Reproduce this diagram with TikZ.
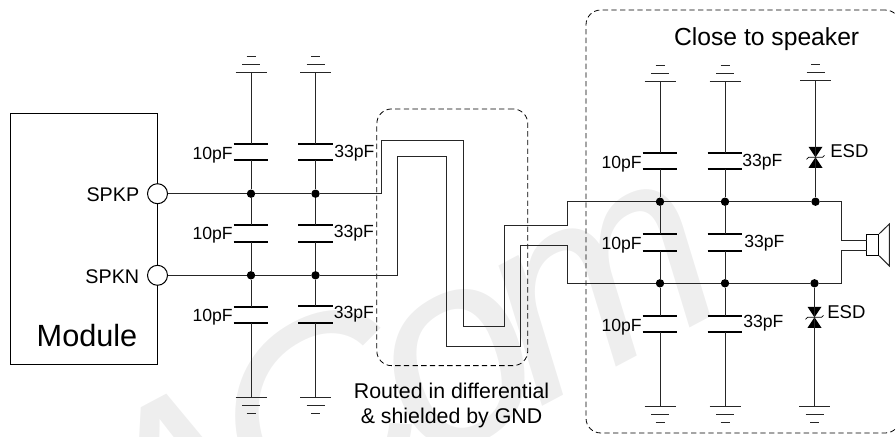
\documentclass[tikz,border=0pt]{standalone}
\usepackage{fontspec}
\setmainfont{Liberation Sans}
\usepackage{xcolor}
\usepackage{tikz}
\usetikzlibrary{positioning}

\definecolor{markgray}{HTML}{EEEEEE}
\tikzset{
    wire/.style={line width=0.75pt, black!85},
    plate/.style={line width=1.5pt, black, line cap=butt},
    capbox/.style={inner sep=0pt, minimum width=25.5pt, minimum height=12pt,
        append after command={
            (\tikzlastnode.north west) edge[plate] (\tikzlastnode.north east)
            (\tikzlastnode.south west) edge[plate] (\tikzlastnode.south east)}},
    junction/.style={circle, fill=black, inner sep=0pt, minimum size=6.3pt},
    pad/.style={draw, circle, fill=white, inner sep=0pt, minimum size=15pt, line width=0.75pt},
    zone/.style={draw, dash pattern=on 4pt off 2.5pt, rounded corners=11pt, line width=0.6pt, inner sep=0pt},
    small/.style={font=\fontsize{13.2}{16}\selectfont, inner sep=0pt},
    pin/.style={font=\fontsize{14.8}{18}\selectfont, inner sep=0pt},
    note/.style={font=\fontsize{16}{18.75}\selectfont, inner sep=0pt, align=center},
    gnd/.pic={
        \draw[wire] (-15.5,0) -- (15.5,0);
        \draw[wire] (-9,-8) -- (9,-8);
        \draw[wire] (-4.5,-16) -- (4.5,-16);
    },
    esd/.pic={
        \fill (-7,-10.5) -- (7,-10.5) -- (0,0) -- cycle;
        \fill (-7,10.5) -- (7,10.5) -- (0,0) -- cycle;
        \draw[line width=0.5pt] (-9,2) -- (-7,0) -- (7,0) -- (9,-2);
    }
}

\begin{document}
\begin{tikzpicture}[x=0.75pt, y=-0.75pt]
    \useasboundingbox (0,0) rectangle (896,436);
    % Watermark
    \node[markgray, rotate=28, anchor=base east, inner sep=0pt, font=\fontsize{205}{205}\selectfont\itshape] (mark) at (740,302) {A\kern-0.12em C\kern-0.09em o\kern-0.09em m};

    % Zones
    \node[zone, minimum width=113.2pt, minimum height=192.5pt] (routezone) at (452.3,237.3) {};
    \node[zone, minimum width=235.5pt, minimum height=317.2pt] (speakerzone) at (743,221.5) {};

    % Module
    \node[draw, line width=0.75pt, inner sep=0pt, minimum width=110.6pt, minimum height=188.8pt] (module) at (83.75,239) {};
    \node[pad] (spkp) at (157.5,193.7) {};
    \node[pad] (spkn) at (157.5,275.3) {};
    \node[pin, anchor=east] (spkplabel) at (139.5,195) {SPKP};
    \node[pin, anchor=east] (spknlabel) at (139.5,277) {SPKN};
    \node[font=\fontsize{23}{28}\selectfont, inner sep=0pt] (modulelabel) at (87,336) {Module};

    % Capacitors, module side
    \node[capbox] (ca1) at (251,152) {};
    \node[capbox] (ca2) at (251,233.7) {};
    \node[capbox] (ca3) at (251,315) {};
    \node[capbox] (cb1) at (315.5,152) {};
    \node[capbox] (cb2) at (315.5,233.7) {};
    \node[capbox] (cb3) at (315.5,314.5) {};
    \node[small, anchor=east] (la1) at (233,155) {10pF};
    \node[small, anchor=east] (la2) at (233,235) {10pF};
    \node[small, anchor=east] (la3) at (233,317) {10pF};
    \node[small, anchor=west] (lb1) at (334,153) {33pF};
    \node[small, anchor=west] (lb2) at (333.5,233) {33pF};
    \node[small, anchor=west] (lb3) at (333.5,314.5) {33pF};

    % Capacitors, speaker side
    \node[capbox] (cc1) at (660,160.8) {};
    \node[capbox] (cc2) at (660,242.5) {};
    \node[capbox] (cc3) at (660,323.8) {};
    \node[capbox] (cd1) at (725,160.8) {};
    \node[capbox] (cd2) at (725,242.5) {};
    \node[capbox] (cd3) at (725,323.8) {};
    \node[small, anchor=east] (lc1) at (642,164) {10pF};
    \node[small, anchor=east] (lc2) at (642,245) {10pF};
    \node[small, anchor=east] (lc3) at (642,327) {10pF};
    \node[small, anchor=west] (ld1) at (742,162) {33pF};
    \node[small, anchor=west] (ld2) at (744,243) {33pF};
    \node[small, anchor=west] (ld3) at (743,323.5) {33pF};

    % Junctions
    \node[junction] (pa) at (251,193.7) {};
    \node[junction] (pb) at (315.5,193.7) {};
    \node[junction] (na) at (251,275.3) {};
    \node[junction] (nb) at (315.5,275.3) {};
    \node[junction] (pc) at (660,201.7) {};
    \node[junction] (pd) at (725,201.7) {};
    \node[junction] (pe) at (815.5,201.7) {};
    \node[junction] (nc) at (660,283.3) {};
    \node[junction] (nd) at (725,283.3) {};
    \node[junction] (ne) at (814.5,283.3) {};

    % Grounds
    \coordinate (ga) at (251,72.3);
    \coordinate (gb) at (315.5,72);
    \coordinate (gc) at (660,81);
    \coordinate (gd) at (725,81);
    \coordinate (ge) at (815.5,80);
    \coordinate (ha) at (251,397);
    \coordinate (hb) at (315.5,397);
    \coordinate (hc) at (660,406.3);
    \coordinate (hd) at (725,406.3);
    \coordinate (he) at (814.5,406.3);
    \foreach \g in {ga,gb,gc,gd,ge} {\pic at (\g) {gnd};}
    \foreach \g in {ha,hb,hc,hd,he} {\pic[yscale=-1] at (\g) {gnd};}

    % Diodes
    \coordinate (dtop) at (815.5,157.3);
    \coordinate (dbot) at (814.5,317.3);
    \pic at (dtop) {esd};
    \pic at (dbot) {esd};
    \node[small, font=\fontsize{13.9}{16}\selectfont, anchor=west] (esdtop) at (830,151.5) {ESD};
    \node[small, font=\fontsize{13.9}{16}\selectfont, anchor=west] (esdbot) at (827,312) {ESD};

    % Speaker
    \node[draw, fill=white, line width=0.75pt, inner sep=0pt, minimum width=8.8pt, minimum height=15.8pt] (spk) at (872.85,244.8) {};
    \coordinate (spktop) at (867,240);
    \coordinate (spkbot) at (867,250);
    \draw[wire] (spk.north east) -- (889.3,224) -- (889.3,266) -- (spk.south east);

    % Texts
    \node[font=\fontsize{18.5}{22}\selectfont, inner sep=0pt] (closelabel) at (766.7,39) {Close to speaker};
    \node[note] (routelabel) at (451.5,405) {Routed in differential\\\& shielded by GND};

    % Edges
    \draw[wire] (ga) -- (ca1) -- (pa) -- (ca2) -- (na) -- (ca3) -- (ha);
    \draw[wire] (gb) -- (cb1) -- (pb) -- (cb2) -- (nb) -- (cb3) -- (hb);
    \draw[wire] (gc) -- (cc1) -- (pc) -- (cc2) -- (nc) -- (cc3) -- (hc);
    \draw[wire] (gd) -- (cd1) -- (pd) -- (cd2) -- (nd) -- (cd3) -- (hd);
    \draw[wire] (ge) -- (pe);
    \draw[wire] (he) -- (ne);
    \draw[wire] (spkp) -- (pa) -- (pb) -- (381.3,193.7) -- (381.3,140.3) -- (463,140.3) -- (463,326.7)
        -- (504,326.7) -- (504,225) -- (567,225) -- (567,201.7) -- (pc) -- (pd) -- (pe)
        -- (841.3,201.7) -- (841.3,240) -- (spktop);
    \draw[wire] (spkn) -- (na) -- (nb) -- (397,275.3) -- (397,156.3) -- (446.3,156.3) -- (446.3,346.7)
        -- (520.7,346.7) -- (520.7,245.7) -- (567,245.7) -- (567,283.3) -- (nc) -- (nd) -- (ne)
        -- (841.3,283.3) -- (841.3,250) -- (spkbot);
\end{tikzpicture}
\end{document}
